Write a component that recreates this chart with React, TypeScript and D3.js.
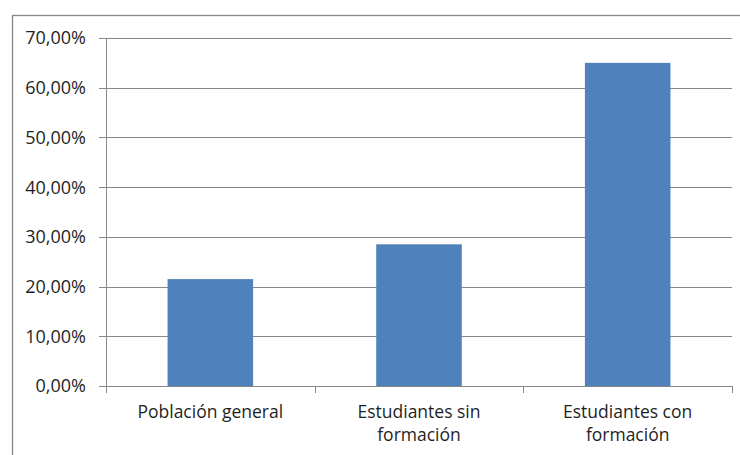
import { useEffect, useRef } from 'react';
import * as d3 from 'd3';

const categories = ['Población general', 'Estudiantes sin formación', 'Estudiantes con formación'];
const values = [0.215, 0.285, 0.65];
const yTicks = [0, 0.1, 0.2, 0.3, 0.4, 0.5, 0.6, 0.7];

const W = 740;
const H = 455;
const FONT = '"Open Sans", "Noto Sans", sans-serif';

export default function App() {
  const svgRef = useRef<SVGSVGElement | null>(null);

  useEffect(() => {
    if (!svgRef.current) return;
    const svg = d3.select(svgRef.current);
    svg.selectAll('*').remove();

    const left = 106;
    const right = 732;
    const top = 38;
    const bottom = 386;

    const x = d3.scaleBand<string>().domain(categories).range([left, right]).paddingInner(0).paddingOuter(0);
    const y = d3.scaleLinear().domain([0, 0.7]).range([bottom, top]);
    const barW = x.bandwidth() * 0.41;

    // outer frame
    svg
      .append('rect')
      .attr('x', 12.5)
      .attr('y', 15.5)
      .attr('width', 900)
      .attr('height', 600)
      .attr('fill', 'white')
      .attr('stroke', '#868686')
      .attr('stroke-width', 1.3);

    // gridlines
    svg
      .append('g')
      .selectAll('line')
      .data(yTicks.slice(1))
      .enter()
      .append('line')
      .attr('x1', left)
      .attr('x2', right)
      .attr('y1', (d) => Math.round(y(d)) + 0.5)
      .attr('y2', (d) => Math.round(y(d)) + 0.5)
      .attr('stroke', '#878787')
      .attr('stroke-width', 1);

    // bars
    svg
      .append('g')
      .selectAll('rect')
      .data(values)
      .enter()
      .append('rect')
      .attr('x', (_, i) => x(categories[i])! + (x.bandwidth() - barW) / 2)
      .attr('y', (d) => y(d))
      .attr('width', barW)
      .attr('height', (d) => bottom - y(d))
      .attr('fill', '#4F81BD');

    // y axis
    const yAxis = svg.append('g');
    yAxis
      .append('line')
      .attr('x1', left + 0.5)
      .attr('x2', left + 0.5)
      .attr('y1', top)
      .attr('y2', bottom)
      .attr('stroke', '#878787');
    yAxis
      .selectAll('line.tick')
      .data(yTicks)
      .enter()
      .append('line')
      .attr('class', 'tick')
      .attr('x1', left - 7)
      .attr('x2', left)
      .attr('y1', (d) => Math.round(y(d)) + 0.5)
      .attr('y2', (d) => Math.round(y(d)) + 0.5)
      .attr('stroke', '#878787');
    yAxis
      .selectAll('text')
      .data(yTicks)
      .enter()
      .append('text')
      .attr('x', 86)
      .attr('y', (d) => y(d))
      .attr('dy', '0.36em')
      .attr('text-anchor', 'end')
      .attr('font-family', FONT)
      .attr('font-size', 18)
      .attr('fill', '#1f1f1f')
      .text((d) => (d * 100).toFixed(2).replace('.', ',') + '%');

    // x axis
    const xAxis = svg.append('g');
    xAxis
      .append('line')
      .attr('x1', left)
      .attr('x2', right)
      .attr('y1', bottom + 0.5)
      .attr('y2', bottom + 0.5)
      .attr('stroke', '#878787');
    xAxis
      .selectAll('line.tick')
      .data([...categories.map((c) => x(c)!), right])
      .enter()
      .append('line')
      .attr('class', 'tick')
      .attr('x1', (d) => Math.round(d) + 0.5)
      .attr('x2', (d) => Math.round(d) + 0.5)
      .attr('y1', bottom)
      .attr('y2', bottom + 7)
      .attr('stroke', '#878787');

    const labels = xAxis
      .selectAll('text')
      .data(categories)
      .enter()
      .append('text')
      .attr('text-anchor', 'middle')
      .attr('font-family', FONT)
      .attr('font-size', 17.5)
      .attr('fill', '#1f1f1f');

    labels.each(function (c) {
      const t = d3.select(this);
      const cx = x(c)! + x.bandwidth() / 2;
      const words = c.split(' ');
      const lines: string[] = [];
      let cur = '';
      for (const w of words) {
        const test = cur ? cur + ' ' + w : w;
        t.text(test);
        if ((this as SVGTextElement).getComputedTextLength() > 175 && cur) {
          lines.push(cur);
          cur = w;
        } else cur = test;
      }
      lines.push(cur);
      t.text(null);
      lines.forEach((ln, i) => {
        t.append('tspan')
          .attr('x', cx)
          .attr('y', 418 + i * 23)
          .text(ln);
      });
    });
  }, []);

  return (
    <svg
      ref={svgRef}
      width={W}
      height={H}
      style={{ position: 'absolute', left: 0, top: 0, display: 'block', background: 'white' }}
    />
  );
}
